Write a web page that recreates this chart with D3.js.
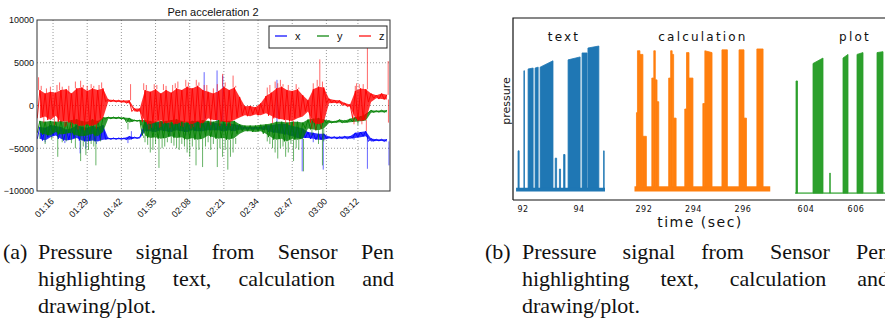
<!DOCTYPE html>
<meta charset="utf-8">
<head>
	<title>Pen acceleration and pressure</title>
	<script type="text/javascript" src="https://cdn.jsdelivr.net/npm/d3@7"></script>
	<style>
		body { margin: 0; background: #fff; }
		.acc text { font-family: "Liberation Sans Narrow", "Liberation Sans", sans-serif; fill: #111; }
		.pres text { font-family: "DejaVu Sans", sans-serif; fill: #111; }
		.caption text { font-family: "Liberation Serif", serif; font-size: 22px; fill: #111; }
	</style>
</head>
<body>
<svg id="fig" width="885" height="331"></svg>
<script>

	// ---- (a) pen acceleration: dense band (low / high per 2 s bin) and single spikes [t, value] ----
	const accStart = 70, accStep = 2;
	const accTicks = [76, 89, 102, 115, 128, 141, 154, 167, 180, 192];
	const accTickLabels = ["01:16", "01:29", "01:42", "01:55", "02:08", "02:21", "02:34", "02:47", "03:00", "03:12"];

	const xLo = [-3900,-4100,-3700,-3500,-3900,-4100,-4000,-3800,-4100,-4200,-4100,-4200,-4000,-3950,-3950,-3950,-3950,-4000,-3850,-3850,
		-3000,-3000,-3100,-2900,-3000,-3100,-2900,-3000,-3100,-2900,-3000,-3000,-2900,-2900,-2900,-3000,-2900,-3000,-2850,-2800,
		-2800,-2800,-2800,-2850,-3100,-3200,-3300,-3400,-3600,-3800,-3800,-3800,-3900,-4000,-4000,-3850,-3850,-3900,-3850,-3900,
		-3800,-3700,-3600,-4200,-4150,-4150,-4200];
	const xHi = [-2500,-2600,-2300,-2400,-2500,-2800,-2700,-2300,-2500,-2600,-2400,-2500,-2300,-3800,-3800,-3800,-3800,-3600,-3700,-3700,
		-1900,-2000,-2000,-1900,-2000,-2100,-1900,-2000,-2100,-1800,-1900,-2000,-2000,-2000,-2100,-2100,-2100,-2200,-2300,-2500,
		-2500,-2500,-2500,-2300,-2300,-2200,-2100,-2200,-2400,-2500,-2700,-3100,-3200,-3300,-3300,-3650,-3650,-3650,-3600,-3600,
		-3200,-3100,-3000,-3850,-3950,-3950,-3950];
	const xSpikes = [[73, -4300], [80.5, -4400], [86.3, -5600], [88.5, -5000], [92.5, -4500], [104.5, -4400], [105.8, -3000],
		[120.5, -3600], [126.5, -3500], [133.5, 3900], [138.4, 4100], [140.6, 3500], [161.2, 3000],
		[165, -4000], [170.8, -7700], [175, -4300], [178.8, -7500], [190.5, -4000], [195.6, -7400], [203.8, -7000]];

	const yLo = [-3200,-3400,-3500,-3100,-3400,-3300,-3200,-3500,-3600,-3500,-3300,-3600,-3100,-1550,-1550,-1550,-1600,-2000,-1850,-1850,
		-3500,-3800,-3700,-3900,-3800,-3600,-3800,-3700,-4000,-3800,-4000,-3900,-3500,-3700,-3900,-3800,-4000,-3800,-3300,-3000,
		-3000,-3100,-3000,-3300,-3700,-4000,-3900,-4200,-3900,-4000,-3900,-2700,-2800,-2900,-2700,-2050,-2050,-1950,-2050,-1950,
		-1900,-1850,-1750,-850,-800,-780,-800];
	const yHi = [-1800,-1900,-1800,-1900,-1800,-1900,-1700,-1600,-1800,-1900,-1600,-1800,-1400,-1350,-1350,-1350,-1400,-1450,-1700,-1700,
		-1700,-1800,-1900,-1800,-1800,-1700,-1600,-1800,-1900,-1800,-1800,-1700,-1800,-1900,-1700,-1800,-1800,-1800,-2200,-2350,
		-2350,-2350,-2250,-2200,-2100,-1900,-1900,-2000,-1900,-1900,-2000,-1650,-1550,-1450,-1650,-1750,-1850,-1650,-1750,-1550,
		-1350,-1250,-1000,-550,-600,-550,-550];
	const ySpikes = [[71, -3900], [73, -4500], [75.5, -4000], [77.8, -6000], [79.5, -4300], [81, -4200], [83, -4400],
		[84.5, -5000], [86.5, -6500], [87.5, -4800], [88.5, -5800], [89.5, -5200], [90.5, -4500], [91.5, -4800],
		[92.3, -7000], [94, -4200], [104.5, -2800], [110.5, -3800], [111, -4300], [112, -4600], [113, -5500],
		[114, -5200], [115, -4500], [116.3, -7300], [117.5, -5000], [118.5, -4800], [119.5, -4300], [121, -4400],
		[122, -4700], [123, -5000], [124, -5200], [125, -4500], [126, -4800], [127, -5500], [128, -6000], [129, -4800],
		[130.4, -7000], [131.5, -5200], [132.9, -7200], [134, -4800], [135, -4300], [136, -5200], [137, -4500],
		[138.5, -7200], [139.5, -5000], [140.5, -6000], [141.5, -5200], [142.5, -7500], [143.5, -6000], [144.5, -5500],
		[145.5, -4500], [157.5, -4200], [158.5, -4500], [159.5, -5000], [160.5, -5500], [161.5, -6200], [162.5, -5000],
		[163.5, -4800], [164.5, -6000], [165.5, -5500], [166.5, -4500], [167.5, -6500], [168.5, -5000], [169.5, -5200],
		[171.3, -7700], [174.5, -3500], [177, -4500], [178.5, -7000], [179, -4200], [192, -2300]];

	const zLo = [-1500,-1300,-1700,-1200,-1900,-1800,-2000,-2200,-2400,-2200,-2400,-2100,-1500,450,450,400,350,250,-700,-700,
		-1900,-2200,-2000,-1700,-2100,-1900,-2200,-1900,-2000,-2200,-1900,-2100,-1500,-1700,-1700,-1900,-2000,-1700,-1400,-1150,
		-1250,-1050,-1150,-900,-1200,-1500,-1600,-1700,-1800,-1500,-1300,-700,-2000,-2200,-2000,250,300,250,0,-150,
		-1500,-1800,-1700,400,850,750,700];
	const zHi = [1800,1400,1600,1500,1800,1900,1400,2000,2100,1700,2000,1800,2000,700,650,620,580,600,-350,-350,
		1800,1600,1900,1400,1800,1500,2000,1800,2200,2000,2300,1800,1600,1400,1700,2200,1800,2100,1000,-100,
		-50,-200,250,1100,1500,2000,2200,1800,1700,1900,1200,600,1900,2200,2100,800,650,600,300,120,
		1700,2000,1900,1400,1200,1400,1250];
	const zSpikes = [[70.5, 3300], [71.5, 2300], [72.5, -2000], [73.5, 2000], [75, 2200], [76.5, -2300], [77.5, 2400],
		[78.5, 2700], [79.5, 2200], [80.5, -2500], [81, -2400], [82, 2300], [83, -2600], [84.5, 2800], [85.5, -2800],
		[86.5, 2900], [87.5, 2400], [88, -2900], [89, 2300], [90.5, 2500], [91.5, 2300], [92.5, -2700], [93.5, 2400],
		[94.5, 2700], [105.5, 2500], [110.5, 2600], [111.5, 2400], [112.5, -2800], [113.5, -2600], [114.5, 2500],
		[115.5, 2400], [116.5, -2600], [117, -2500], [118, 2500], [119, 2300], [120.5, -2600], [121.5, 2400],
		[122.5, 2600], [123.5, 2800], [124.5, -2400], [125.5, -2500], [126.5, 3000], [127.5, 2700], [128.5, -2700],
		[129.5, -2500], [130.5, 3000], [131.5, 2700], [132, -2600], [133.5, 2400], [134.5, 2400], [136, -2300],
		[137, 2000], [138.5, 2500], [139.5, -2400], [140.5, 3700], [141.5, 2700], [142, -2400], [143.5, -2400],
		[144.5, 3500], [145.5, 2300], [157.5, 2100], [158.5, 2400], [159.5, -2100], [160.5, 2800], [161.5, 2600],
		[162.5, 3000], [163.5, 2500], [164.5, -2100], [165.5, 2400], [166, -2300], [167.5, -2400], [168.5, 2500],
		[169.5, 2100], [174.5, -2700], [175, 2600], [176, -2900], [176.5, 3000], [177.5, 5400], [178, -2700],
		[178.5, 2800], [190.5, -2200], [191, 2300], [191.5, 2600], [192.5, 2500], [193.5, -2200], [194, 2500],
		[195.2, -3000], [195.6, 6800], [203.5, 5200], [203.6, -2000]];

	// ---- (b) pressure, [start, end, top at start, top at end] of each pen stroke ----
	const panelNames = ["text", "calculation", "plot"];
	const panelDomains = [[91.64, 94.93], [291.56, 297.09], [603.48, 607.76]];
	const panelSignal = [[91.75, 94.93], [291.62, 297.1], [603.56, 607.76]];
	const panelTicks = [[92, 94], [292, 294, 296], [604, 606]];
	const panelBase = [[0.05, 0.064], [0.05, 0.072], [0.038, 0.038]];

	const textStrokes = [
		[91.82, 91.86, 0.27, 0.27], [92.03, 92.05, 0.71, 0.71], [92.18, 92.36, 0.72, 0.725],
		[92.43, 92.54, 0.725, 0.73], [92.61, 93.07, 0.73, 0.765], [93.15, 93.2, 0.23, 0.23],
		[93.3, 93.34, 0.17, 0.17], [93.45, 93.5, 0.25, 0.25], [93.61, 94.04, 0.77, 0.786],
		[94.11, 94.29, 0.808, 0.808], [94.32, 94.71, 0.835, 0.846], [94.88, 94.9, 0.27, 0.27]];
	const calcStrokes = [
		[291.70, 291.74, 0.48, 0.48], [291.74, 291.84, 0.82, 0.82], [291.84, 291.96, 0.80, 0.80],
		[291.96, 292.1, 0.35, 0.35], [292.32, 292.40, 0.67, 0.67], [292.40, 292.46, 0.82, 0.82],
		[292.46, 292.53, 0.66, 0.66], [292.53, 292.6, 0.54, 0.54], [293.0, 293.08, 0.67, 0.67],
		[293.08, 293.14, 0.82, 0.82], [293.14, 293.2, 0.8, 0.8], [293.2, 293.3, 0.45, 0.45],
		[293.65, 293.72, 0.5, 0.5], [293.72, 293.82, 0.81, 0.81], [293.82, 293.98, 0.67, 0.67],
		[294.38, 294.46, 0.53, 0.53], [294.46, 294.75, 0.82, 0.81], [295.15, 295.37, 0.825, 0.825],
		[295.84, 296.04, 0.825, 0.825], [296.04, 296.14, 0.45, 0.45], [296.56, 296.81, 0.83, 0.83]];
	const plotStrokes = [
		[603.6, 603.66, 0.654, 0.654], [604.28, 604.68, 0.75, 0.78], [604.95, 604.97, 0.148, 0.148],
		[605.48, 605.68, 0.78, 0.8], [606.04, 606.28, 0.8, 0.81], [606.84, 607.08, 0.81, 0.815]];

	const captionA = ["Pressure signal from Sensor Pen", "highlighting text, calculation and", "drawing/plot."];
	const captionB = ["Pressure signal from Sensor Pen", "highlighting text, calculation and", "drawing/plot."];

	const svg = d3.select("#fig");

	// ================= (a) =================
	const ax = d3.scaleLinear().domain([69.9, 204.2]).range([37, 390]);
	const ay = d3.scaleLinear().domain([-10000, 10000]).range([191, 20]);
	const acc = svg.append("g").attr("class", "acc");

	acc.append("clipPath").attr("id", "accClip")
		.append("rect").attr("x", 37).attr("y", 20).attr("width", 353).attr("height", 171);

	// grid
	acc.selectAll(".vg").data(accTicks).enter().append("line")
		.attr("x1", d => ax(d)).attr("x2", d => ax(d)).attr("y1", 20).attr("y2", 191)
		.attr("stroke", "#9a9a9a").attr("stroke-dasharray", "1,2");
	acc.selectAll(".hg").data([-5000, 0, 5000]).enter().append("line")
		.attr("x1", 37).attr("x2", 390).attr("y1", d => ay(d)).attr("y2", d => ay(d))
		.attr("stroke", "#9a9a9a").attr("stroke-dasharray", "1,2");

	const accSeries = [
		{ name: "x", lo: xLo, hi: xHi, spikes: xSpikes, color: "#0000ff" },
		{ name: "y", lo: yLo, hi: yHi, spikes: ySpikes, color: "#008000" },
		{ name: "z", lo: zLo, hi: zHi, spikes: zSpikes, color: "#ff0000" }];
	const binOf = t => Math.max(0, Math.min(xLo.length - 1, Math.floor((t - accStart) / accStep)));
	const binMid = i => accStart + i * accStep + accStep / 2;
	const accBand = d3.area().x((d, i) => ax(binMid(i))).y0(d => ay(d[0])).y1(d => ay(d[1]));
	const accZig = d3.line().x(d => ax(d[0])).y(d => ay(d[1]));
	const traces = acc.append("g").attr("clip-path", "url(#accClip)");
	accSeries.forEach(s => {
		const g = traces.append("g");
		g.append("path")
			.attr("d", accBand(s.lo.map((v, i) => [v, s.hi[i]])))
			.attr("fill", s.color).attr("fill-opacity", 0.8);
		// noisy texture: line running low / high through each bin
		const pts = [];
		s.lo.forEach((v, i) => { pts.push([accStart + i * accStep, v]); pts.push([accStart + i * accStep + 1, s.hi[i]]); });
		g.append("path").attr("d", accZig(pts))
			.attr("fill", "none").attr("stroke", s.color).attr("stroke-width", 0.9);
		g.selectAll("line").data(s.spikes).enter().append("line")
			.attr("x1", d => ax(d[0])).attr("x2", d => ax(d[0]))
			.attr("y1", d => ay(d[1] < 0 ? s.lo[binOf(d[0])] : s.hi[binOf(d[0])]))
			.attr("y2", d => ay(d[1]))
			.attr("stroke", s.color).attr("stroke-width", 1).attr("stroke-opacity", 0.6);
	});

	// frame
	acc.append("rect").attr("x", 37).attr("y", 20).attr("width", 353).attr("height", 171)
		.attr("fill", "none").attr("stroke", "#333").attr("stroke-width", 1);

	// axes
	const xAxis = acc.append("g").attr("transform", "translate(0,191)")
		.call(d3.axisBottom(ax).tickValues(accTicks).tickFormat((d, i) => accTickLabels[i]).tickSize(0));
	xAxis.select(".domain").remove();
	xAxis.selectAll("text")
		.attr("y", 0).attr("dy", 0)
		.attr("transform", "translate(1,11) rotate(-45)")
		.style("text-anchor", "end").style("font-size", "9px")
		.style("font-family", "'Liberation Sans Narrow', 'Liberation Sans', sans-serif");

	const yAxis = acc.append("g").attr("transform", "translate(37,0)")
		.call(d3.axisLeft(ay).tickValues([-10000, -5000, 0, 5000, 10000])
			.tickFormat(d => d < 0 ? "\u2212" + Math.abs(d) : String(d)).tickSize(0).tickPadding(3));
	yAxis.select(".domain").remove();
	yAxis.selectAll("text").style("font-size", "9px")
		.style("font-family", "'Liberation Sans Narrow', 'Liberation Sans', sans-serif");

	acc.append("text").attr("x", 213).attr("y", 16).attr("text-anchor", "middle")
		.style("font-size", "11px").text("Pen acceleration 2");

	// legend
	const leg = acc.append("g");
	leg.append("rect").attr("x", 269).attr("y", 26).attr("width", 118).attr("height", 22)
		.attr("fill", "#fff").attr("stroke", "#222").attr("stroke-width", 1);
	leg.selectAll(".li").data(accSeries).enter().append("line")
		.attr("x1", (d, i) => 275 + i * 42).attr("x2", (d, i) => 287 + i * 42)
		.attr("y1", 36).attr("y2", 36).attr("stroke", d => d.color).attr("stroke-width", 1.2);
	leg.selectAll(".lt").data(accSeries).enter().append("text")
		.attr("x", (d, i) => 295 + i * 42).attr("y", 40)
		.style("font-size", "11px").text(d => d.name);

	// ================= (b) =================
	const pres = svg.append("g").attr("class", "pres");
	const py = d3.scaleLinear().domain([0, 1]).range([200, 18]);
	const panelRanges = [[513, 605], [633, 770], [793, 900]];
	const panelColors = ["#1f77b4", "#ff7f0e", "#2ca02c"];
	const panelStrokes = [textStrokes, calcStrokes, plotStrokes];
	const panelTitleX = [563, 702, 854];

	panelNames.forEach((name, p) => {
		const px = d3.scaleLinear().domain(panelDomains[p]).range(panelRanges[p]);
		const g = pres.append("g");
		const col = panelColors[p];
		const base = panelBase[p];

		// resting signal
		g.append("rect")
			.attr("x", px(panelSignal[p][0])).attr("width", px(panelSignal[p][1]) - px(panelSignal[p][0]))
			.attr("y", py(base[1]) - 0.6).attr("height", py(base[0]) - py(base[1]) + 1.2)
			.attr("fill", col);

		// pen strokes
		g.selectAll("path").data(panelStrokes[p]).enter().append("path")
			.attr("d", d => d3.line()([
				[px(d[0]), py(base[1])], [px(d[0]), py(d[2])],
				[px(d[1]), py(d[3])], [px(d[1]), py(base[1])]]) + "Z")
			.attr("fill", col).attr("stroke", col).attr("stroke-width", 0.8);

		// ticks
		g.selectAll(".tk").data(panelTicks[p]).enter().append("text")
			.attr("x", d => px(d)).attr("y", 212).attr("text-anchor", "middle")
			.style("font-size", "8px").style("letter-spacing", "0.5px").text(d => d);

		// bottom spine
		g.append("line").attr("x1", panelRanges[p][0]).attr("x2", Math.min(panelRanges[p][1], 885))
			.attr("y1", 200).attr("y2", 200).attr("stroke", "#111").attr("stroke-width", 1.2);

		g.append("text").attr("x", panelTitleX[p] + 1).attr("y", 41).attr("text-anchor", "middle")
			.style("font-size", "12px").style("letter-spacing", "2.2px").text(name);
	});

	// axis breaks
	pres.selectAll(".brk").data([[605, 633], [770, 793]]).enter().append("line")
		.attr("x1", d => d[0]).attr("x2", d => d[1]).attr("y1", 200).attr("y2", 200)
		.attr("stroke", "#888").attr("stroke-width", 2);
	pres.append("path").attr("d", "M513,200 L513,18 L885,18")
		.attr("fill", "none").attr("stroke", "#111").attr("stroke-width", 1.2);

	pres.append("text").attr("transform", "translate(510,101) rotate(-90)").attr("text-anchor", "middle")
		.style("font-size", "11px").text("pressure");
	pres.append("text").attr("x", 700).attr("y", 227).attr("text-anchor", "middle")
		.style("font-size", "14px").style("letter-spacing", "1.5px").text("time (sec)");

	// ================= captions =================
	const capY = [259, 286, 313];
	function caption(label, lines, xLabel, x0, x1) {
		const g = svg.append("g").attr("class", "caption");
		g.append("text").attr("x", xLabel).attr("y", capY[0]).text(label);
		lines.forEach((line, li) => {
			const words = line.split(" ");
			const ts = words.map(w => g.append("text").attr("y", capY[li]).text(w));
			const widths = ts.map(t => t.node().getComputedTextLength());
			const last = li === lines.length - 1;
			const gap = (last || words.length < 2) ? 5.5 : (x1 - x0 - d3.sum(widths)) / (words.length - 1);
			let x = x0;
			ts.forEach((t, i) => { t.attr("x", x); x += widths[i] + gap; });
		});
	}
	caption("(a)", captionA, 3, 38, 394);
	caption("(b)", captionB, 485, 522, 889);

</script>
</body>
</html>
